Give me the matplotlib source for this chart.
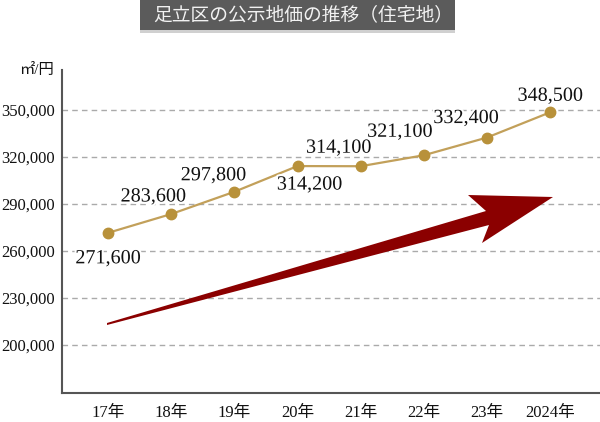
import matplotlib.pyplot as plt
import matplotlib.patheffects as pe
from matplotlib.patches import Polygon, Rectangle

plt.rcParams['font.family'] = ['Liberation Serif', 'Noto Sans CJK JP']

# data
years = ["17年", "18年", "19年", "20年", "21年", "22年", "23年", "2024年"]
prices = [271600, 283600, 297800, 314200, 314100, 321100, 332400, 348500]
y_ticks = [200000, 230000, 260000, 290000, 320000, 350000]
# label placement: (dx px, dy px) from the point
label_offsets = [(0, -26), (-18, 17), (-21, 16), (12, -19), (-22, 18), (-24, 23), (-21, 19), (0, 16)]

LINE_COLOR = "#c2a05a"
MARKER_COLOR = "#b8913a"
ARROW_COLOR = "#8b0000"

fig = plt.figure(figsize=(6, 4.22), dpi=100)
ax = fig.add_axes([62 / 600, 29 / 422, 538 / 600, 323 / 422])

x = list(range(len(years)))
ax.plot(x, prices, color=LINE_COLOR, lw=1.6, marker="o", ms=7.5,
        markerfacecolor=MARKER_COLOR, markeredgecolor=MARKER_COLOR, zorder=4)

for xi, val, (dx, dy) in zip(x, prices, label_offsets):
    ax.annotate(f"{val:,}", (xi, val), xytext=(dx * 0.72, dy * 0.72),
                textcoords="offset points", ha="center", va="center",
                fontsize=14.5, color="#111111", zorder=5,
                path_effects=[pe.withStroke(linewidth=3, foreground="white")])

ax.set_xlim(-0.73, 7.79)
ax.set_ylim(169400, 375500)
ax.set_xticks(x)
ax.set_xticklabels(years, fontsize=12)
ax.set_yticks(y_ticks)
ax.set_yticklabels([f"{v:,}" for v in y_ticks], fontsize=12)
ax.tick_params(length=0, colors="#111111")
ax.tick_params(axis="x", pad=9)
ax.tick_params(axis="y", pad=5)
ax.grid(axis="y", color="#aaaaaa", lw=1, ls=(0, (4, 3)))
ax.set_axisbelow(True)
for s in ["top", "right"]:
    ax.spines[s].set_visible(False)
for s in ["left", "bottom"]:
    ax.spines[s].set_color("#555555")
    ax.spines[s].set_linewidth(1.5)

# unit label
ax.text(-0.015, 1.0, "㎡/円", transform=ax.transAxes, ha="right", va="center",
        fontsize=11, color="#111111")

# big trend arrow (axes fraction)
def to_ax(px, py):
    return ((px - 62) / 538, (393 - py) / 323)

arrow_pts = [to_ax(107, 323), to_ax(486, 211), to_ax(468, 195), to_ax(553, 197),
             to_ax(482, 243), to_ax(489, 225), to_ax(107, 325)]
ax.add_patch(Polygon(arrow_pts, closed=True, transform=ax.transAxes,
                     facecolor=ARROW_COLOR, edgecolor="none", zorder=3))

# title bar
fig.patches.append(Rectangle((140 / 600, 1 - 30 / 422), 315 / 600, 30 / 422,
                             transform=fig.transFigure, facecolor="#5b5b5b",
                             edgecolor="none"))
fig.patches.append(Rectangle((140 / 600, 1 - 33 / 422), 315 / 600, 3 / 422,
                             transform=fig.transFigure, facecolor="#d0d0d0",
                             edgecolor="none"))
fig.text(303 / 600, 1 - 15 / 422, "足立区の公示地価の推移（住宅地）", ha="center", va="center",
         fontsize=13.5, color="#f2f2f2", family=["Noto Sans CJK JP"])

fig.savefig("out.png", dpi=100)
